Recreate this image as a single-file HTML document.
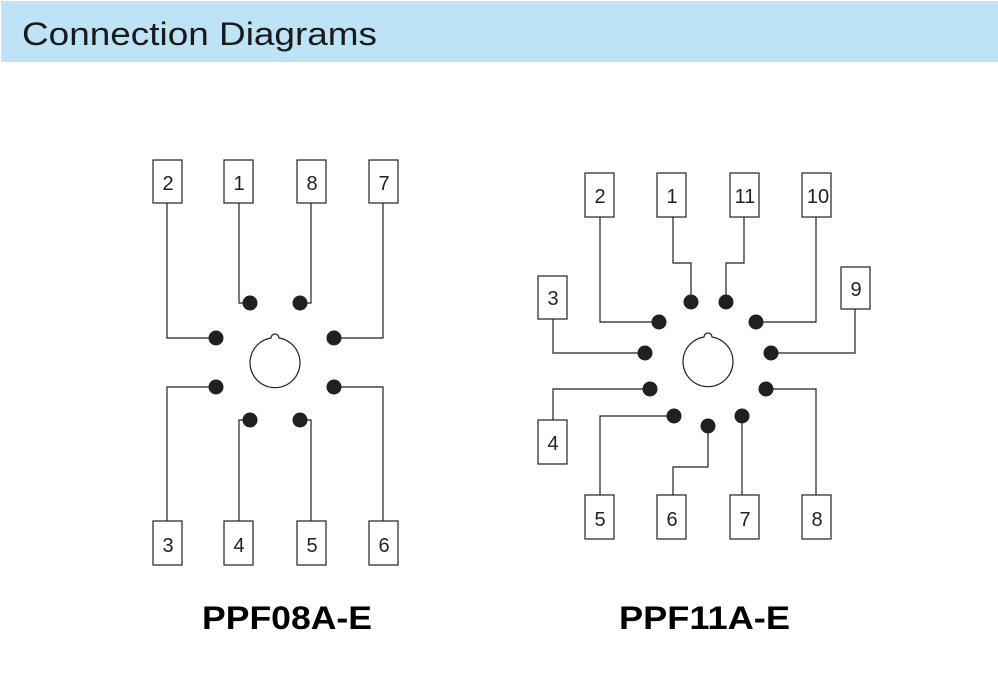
<!DOCTYPE html>
<html><head><meta charset="utf-8"><style>
html,body{margin:0;padding:0;background:#fff;}
svg{display:block}
</style></head><body>
<svg width="998" height="686" viewBox="0 0 998 686" xmlns="http://www.w3.org/2000/svg" font-family="Liberation Sans, Arial, sans-serif">
<rect x="1" y="1" width="997" height="61" fill="#bde3f6"/>
<text x="22" y="45" font-size="32" fill="#1a1a1a" textLength="355" lengthAdjust="spacingAndGlyphs">Connection  Diagrams</text>

<g fill="none" stroke="#231f20" stroke-width="1.2">
<!-- left boxes -->
<rect x="153" y="160" width="29" height="43"/>
<rect x="224" y="160" width="29" height="43"/>
<rect x="297" y="160" width="29" height="43"/>
<rect x="369" y="160" width="29" height="43"/>
<rect x="153" y="521" width="29" height="44"/>
<rect x="224" y="521" width="29" height="44"/>
<rect x="297" y="521" width="29" height="44"/>
<rect x="369" y="521" width="29" height="44"/>
<polyline points="167,203 167,338 216,338"/>
<polyline points="239,203 239,303 250,303"/>
<polyline points="311,203 311,303 300,303"/>
<polyline points="383,203 383,338 334,338"/>
<polyline points="167,521 167,387 216,387"/>
<polyline points="239,521 239,420 250,420"/>
<polyline points="311,521 311,420 300,420"/>
<polyline points="383,521 383,387 334,387"/>
<path d="M271,338 A25,25 0 1 0 279,338 A4,4 0 0 0 271,338 Z"/>

<!-- right boxes -->
<rect x="585" y="173" width="29" height="44"/>
<rect x="657" y="173" width="29" height="44"/>
<rect x="730" y="173" width="29" height="44"/>
<rect x="802" y="173" width="29" height="44"/>
<rect x="538" y="276" width="29" height="43"/>
<rect x="841" y="267" width="29" height="42"/>
<rect x="538" y="420" width="29" height="44"/>
<rect x="585" y="495" width="29" height="44"/>
<rect x="657" y="495" width="29" height="44"/>
<rect x="730" y="495" width="29" height="44"/>
<rect x="802" y="495" width="29" height="44"/>
<polyline points="600,217 600,322 659,322"/>
<polyline points="673,217 673,263 691,263 691,302"/>
<polyline points="744,217 744,263 726,263 726,302"/>
<polyline points="816,217 816,322 756,322"/>
<polyline points="553,319 553,353 645,353"/>
<polyline points="855,309 855,353 771,353"/>
<polyline points="553,420 553,389 650,389"/>
<polyline points="816,495 816,389 766,389"/>
<polyline points="600,495 600,416 674,416"/>
<polyline points="673,495 673,467 708,467 708,426"/>
<polyline points="742,495 742,416"/>
<path d="M704,337 A25,25 0 1 0 712,337 A4,4 0 0 0 704,337 Z"/>
</g>

<g fill="#231f20">
<circle cx="216" cy="338" r="7.5"/><circle cx="250" cy="303" r="7.5"/>
<circle cx="300" cy="303" r="7.5"/><circle cx="334" cy="338" r="7.5"/>
<circle cx="216" cy="387" r="7.5"/><circle cx="250" cy="420" r="7.5"/>
<circle cx="300" cy="420" r="7.5"/><circle cx="334" cy="387" r="7.5"/>

<circle cx="659" cy="322" r="7.5"/><circle cx="691" cy="302" r="7.5"/>
<circle cx="726" cy="302" r="7.5"/><circle cx="756" cy="322" r="7.5"/>
<circle cx="645" cy="353" r="7.5"/><circle cx="771" cy="353" r="7.5"/>
<circle cx="650" cy="389" r="7.5"/><circle cx="766" cy="389" r="7.5"/>
<circle cx="674" cy="416" r="7.5"/><circle cx="708" cy="426" r="7.5"/>
<circle cx="742" cy="416" r="7.5"/>
</g>

<g font-size="20" fill="#231f20" text-anchor="middle">
<text x="168" y="190">2</text><text x="239" y="190">1</text>
<text x="312" y="190">8</text><text x="384" y="190">7</text>
<text x="168" y="552">3</text><text x="239" y="552">4</text>
<text x="312" y="552">5</text><text x="384" y="552">6</text>

<text x="600" y="203">2</text><text x="672" y="203">1</text>
<text x="745" y="203">11</text><text x="818" y="203">10</text>
<text x="553" y="305">3</text><text x="856" y="296">9</text>
<text x="553" y="450">4</text>
<text x="600" y="526">5</text><text x="672" y="526">6</text>
<text x="745" y="526">7</text><text x="817" y="526">8</text>
</g>

<g font-size="32" font-weight="bold" fill="#000">
<text x="202" y="629" textLength="170" lengthAdjust="spacingAndGlyphs">PPF08A-E</text>
<text x="619" y="629" textLength="171" lengthAdjust="spacingAndGlyphs">PPF11A-E</text>
</g>
</svg>
</body></html>
